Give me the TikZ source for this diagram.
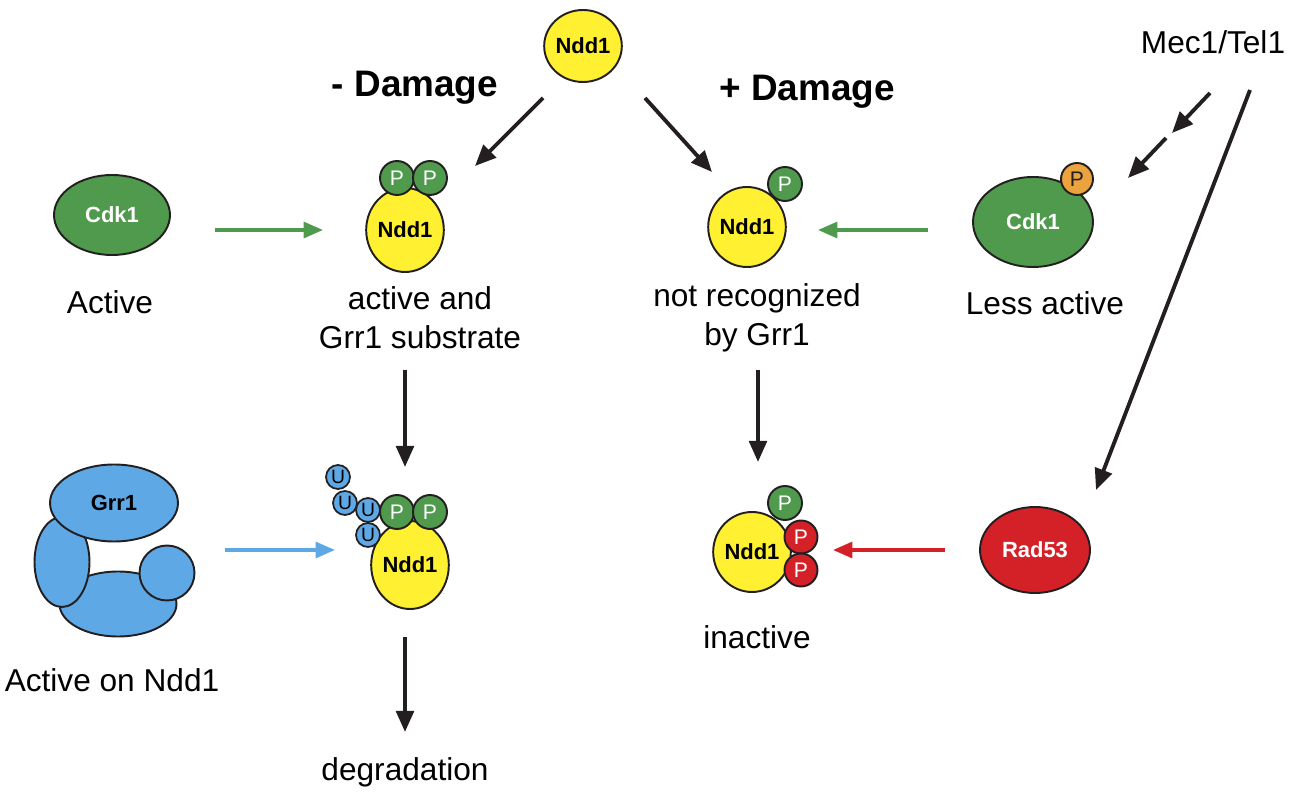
\documentclass[tikz,border=0pt]{standalone}
\usepackage{fontspec}
\setmainfont{Liberation Sans}
\usetikzlibrary{shapes.geometric,arrows.meta}
\definecolor{yel}{HTML}{FFF032}
\definecolor{grn}{HTML}{4F9A4C}
\definecolor{blu}{HTML}{5FA8E6}
\definecolor{rd}{HTML}{D42128}
\definecolor{org}{HTML}{EBA33F}
\definecolor{ink}{HTML}{231F20}
\begin{document}
\begin{tikzpicture}[x=0.02cm,y=-0.02cm,
  prot/.style={ellipse,draw=ink,line width=1.1pt,inner sep=0pt,font=\fontsize{12.5}{14}\selectfont\bfseries},
  ph/.style={circle,draw=ink,line width=1.1pt,inner sep=0pt,font=\fontsize{12}{14}\selectfont},
  pg/.style={ph,fill=grn,text=white,minimum size=0.68cm},
  ub/.style={circle,draw=ink,line width=1pt,fill=blu,inner sep=0pt,minimum size=0.48cm,font=\fontsize{11}{12}\selectfont},
  lab/.style={font=\fontsize{18}{22}\selectfont,align=center},
  arr/.style={line width=2.2pt,draw=ink,-{Triangle[length=12pt,width=10pt]}},
  carr/.style={line width=2pt,-{Triangle[length=11pt,width=9pt]}}]
\useasboundingbox (0,0) rectangle (1296,800);
% top Ndd1
\node[prot,fill=yel,minimum width=1.2cm,minimum height=1.44cm] (n0) at (583,46) {Ndd1};
\node[font=\fontsize{21}{24}\selectfont\bfseries] (dm) at (415,88) {- Damage};
\node[font=\fontsize{21}{24}\selectfont\bfseries] (dp) at (807,92) {+ Damage};
\node[lab] (mec) at (1213,42) {Mec1/Tel1};
% left Cdk1
\node[prot,fill=grn,text=white,minimum width=2.32cm,minimum height=1.6cm] (c1) at (112,215) {Cdk1};
\node[lab] (act) at (110,302) {Active};
% Ndd1 PP
\node[prot,fill=yel,minimum width=1.44cm,minimum height=1.68cm] (n1) at (405,230) {Ndd1};
\node[pg] (p1a) at (397,178) {P};
\node[pg] (p1b) at (430,178) {P};
\node[lab] (t1) at (420,318) {active and\\Grr1 substrate};
% Ndd1 P right
\node[prot,fill=yel,minimum width=1.12cm,minimum height=1.6cm] (n2) at (747,227) {Ndd1};
\node[pg] (p2) at (785,184) {P};
\node[lab] (t2) at (757,318) {not recognized\\by Grr1};
% right Cdk1
\node[prot,fill=grn,text=white,minimum width=2.4cm,minimum height=1.8cm] (c2) at (1033,222) {Cdk1};
\node[ph,fill=org,text=ink,minimum size=0.64cm] (po) at (1077,179) {P};
\node[lab] (less) at (1045,303) {Less active};
% Grr1
\node[ellipse,draw=ink,line width=1.1pt,fill=blu,minimum width=2.34cm,minimum height=1.3cm] (gb) at (118,604) {};
\node[circle,draw=ink,line width=1.1pt,fill=blu,minimum size=1.1cm] (gc) at (167,573) {};
\node[ellipse,draw=ink,line width=1.1pt,fill=blu,minimum width=1.1cm,minimum height=1.8cm] (gl) at (62,562) {};
\node[prot,fill=blu,minimum width=2.56cm,minimum height=1.54cm] (gt) at (114,503) {Grr1};
\node[lab] (aon) at (112,680) {Active on Ndd1};
% Ndd1 UUPP
\node[prot,fill=yel,minimum width=1.44cm,minimum height=1.76cm] (n3) at (410,565) {Ndd1};
\node[pg] (p3a) at (397,512) {P};
\node[pg] (p3b) at (430,512) {P};
\node[ub] (u4) at (368,535) {U};
\node[ub] (u3) at (368,510) {U};
\node[ub] (u2) at (345,503) {U};
\node[ub] (u1) at (338,477) {U};
\node[lab] (deg) at (405,772) {degradation};
% inactive Ndd1
\node[prot,fill=yel,minimum width=1.2cm,minimum height=1.6cm] (n4) at (752,552) {Ndd1};
\node[pg] (p4) at (785,503) {P};
\node[ph,fill=rd,text=white,minimum size=0.66cm] (r1) at (801,537) {P};
\node[ph,fill=rd,text=white,minimum size=0.66cm] (r2) at (801,570) {P};
\node[lab] (inact) at (757,637) {inactive};
% Rad53
\node[prot,fill=rd,text=white,minimum width=2.2cm,minimum height=1.72cm] (rad) at (1035,550) {Rad53};
% coordinates
\coordinate (a1s) at (543,98); \coordinate (a1e) at (475,166);
\coordinate (a2s) at (645,98); \coordinate (a2e) at (712,172);
\coordinate (g1s) at (215,230); \coordinate (g1e) at (323,230);
\coordinate (g2s) at (928,230); \coordinate (g2e) at (818,230);
\coordinate (m1s) at (1210,93); \coordinate (m1e) at (1172,133);
\coordinate (m2s) at (1166,138); \coordinate (m2e) at (1128,178);
\coordinate (m3s) at (1250,90); \coordinate (m3e) at (1096,490);
\coordinate (d1s) at (405,370); \coordinate (d1e) at (405,467);
\coordinate (d2s) at (758,370); \coordinate (d2e) at (758,462);
\coordinate (d3s) at (405,637); \coordinate (d3e) at (405,732);
\coordinate (b1s) at (225,550); \coordinate (b1e) at (335,550);
\coordinate (r1s) at (945,550); \coordinate (r1e) at (833,550);
\draw[arr] (a1s) -- (a1e);
\draw[arr] (a2s) -- (a2e);
\draw[arr] (m1s) -- (m1e);
\draw[arr] (m2s) -- (m2e);
\draw[arr] (m3s) -- (m3e);
\draw[arr] (d1s) -- (d1e);
\draw[arr] (d2s) -- (d2e);
\draw[arr] (d3s) -- (d3e);
\draw[carr,grn] (g1s) -- (g1e);
\draw[carr,grn] (g2s) -- (g2e);
\draw[carr,blu] (b1s) -- (b1e);
\draw[carr,rd] (r1s) -- (r1e);
\end{tikzpicture}
\end{document}
